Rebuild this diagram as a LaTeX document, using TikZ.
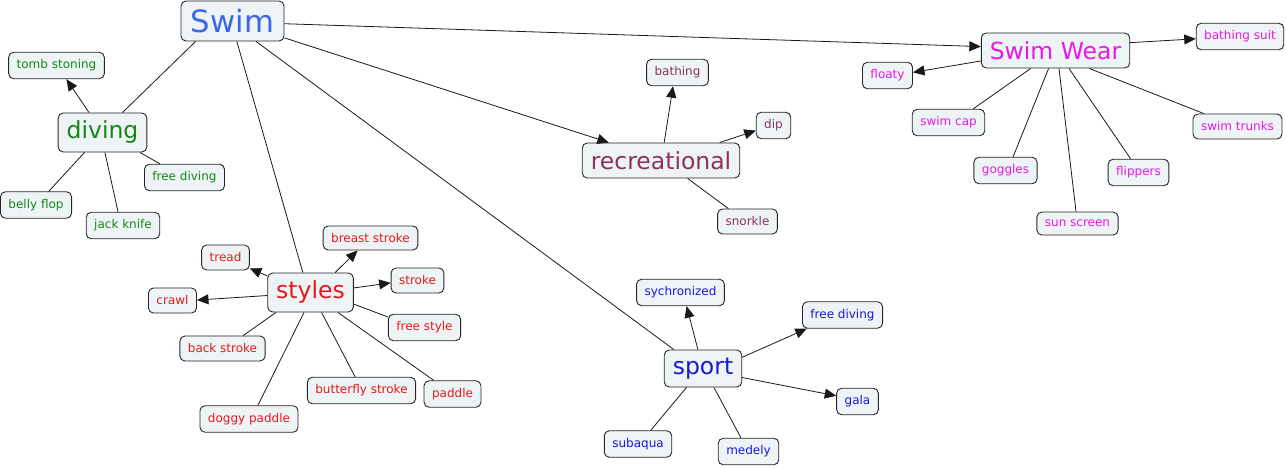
\documentclass[tikz,border=0pt]{standalone}
\usepackage{fontspec}
\setmainfont{DejaVu Sans}
\usetikzlibrary{arrows.meta}
\definecolor{cfill}{RGB}{238,243,246}
\definecolor{cswim}{RGB}{59,102,232}
\definecolor{cgreen}{RGB}{22,135,22}
\definecolor{cred}{RGB}{230,25,25}
\definecolor{cplum}{RGB}{140,50,95}
\definecolor{cblue}{RGB}{25,25,210}
\definecolor{cmag}{RGB}{230,25,230}
\begin{document}
\begin{tikzpicture}[x=1pt,y=-1pt,
  box/.style={draw=black!85, line width=0.9pt, fill=cfill, rounded corners=5pt,
    inner xsep=8pt, inner ysep=0pt, minimum height=26.5pt},
  big/.style={box, font=\fontsize{23.5}{28}\selectfont, inner xsep=8.5pt, minimum height=37pt},
  small/.style={box, font=\fontsize{12}{14}\selectfont},
  link/.style={draw=black!90, line width=0.8pt},
  arr/.style={link, -{Triangle[length=11.5pt,width=10pt]}}]
\useasboundingbox (0,0) rectangle (1286,468);

% main concepts
\node[big, text=cswim, font=\fontsize{30.7}{36}\selectfont, inner xsep=10pt, minimum height=40pt] (swim) at (232.5,21) {Swim};
\node[big, text=cgreen, minimum height=39pt] (diving) at (102.5,132.5) {diving};
\node[big, text=cred, minimum height=39pt] (styles) at (310.5,292.5) {styles};
\node[big, text=cplum, minimum height=35pt] (rec) at (661,160.5) {recreational};
\node[big, text=cmag, minimum height=35pt] (sw) at (1055.5,50.5) {Swim Wear};
\node[big, text=cblue, minimum height=37pt] (sport) at (703,368.5) {sport};

% diving children
\node[small, text=cgreen] (tomb) at (56.5,65.5) {tomb stoning};
\node[small, text=cgreen] (fdg) at (184.5,177.5) {free diving};
\node[small, text=cgreen] (belly) at (36,205) {belly flop};
\node[small, text=cgreen] (jack) at (123,225.5) {jack knife};

% styles children
\node[small, text=cred, minimum height=24pt] (breast) at (370.5,238) {breast stroke};
\node[small, text=cred, minimum height=25pt] (tread) at (225.5,257.5) {tread};
\node[small, text=cred, minimum height=25pt] (stroke) at (417.5,280.5) {stroke};
\node[small, text=cred, minimum height=25pt] (crawl) at (172.5,300.5) {crawl};
\node[small, text=cred] (freestyle) at (424.5,327.5) {free style};
\node[small, text=cred, minimum height=25pt] (back) at (222.5,348.5) {back stroke};
\node[small, text=cred] (butterfly) at (361.5,390.5) {butterfly stroke};
\node[small, text=cred] (paddle) at (452.5,394) {paddle};
\node[small, text=cred] (doggy) at (249,419) {doggy paddle};

% recreational children
\node[small, text=cplum] (bathing) at (677.5,72.5) {bathing};
\node[small, text=cplum] (dip) at (773.5,125.5) {dip};
\node[small, text=cplum, minimum height=25pt] (snorkle) at (747.5,221.5) {snorkle};

% sport children
\node[small, text=cblue] (sych) at (680.5,292.5) {sychronized};
\node[small, text=cblue] (fdb) at (842.5,315) {free diving};
\node[small, text=cblue] (gala) at (857.5,401.5) {gala};
\node[small, text=cblue] (subaqua) at (638,444) {subaqua};
\node[small, text=cblue] (medely) at (748.5,451.5) {medely};

% swim wear children
\node[small, text=cmag] (bsuit) at (1240,36.5) {bathing suit};
\node[small, text=cmag] (floaty) at (887.5,75.5) {floaty};
\node[small, text=cmag] (cap) at (948.5,122.5) {swim cap};
\node[small, text=cmag] (goggles) at (1005.5,170.5) {goggles};
\node[small, text=cmag, minimum height=23pt] (sun) at (1077.5,223.5) {sun screen};
\node[small, text=cmag] (flip) at (1138.5,172.5) {flippers};
\node[small, text=cmag, minimum height=25pt] (trunks) at (1237.5,126.5) {swim trunks};

% Swim links
\draw[link] (swim.209.2) -- (diving.45);
\draw[link] (swim.282.1) -- (styles.111);
\draw[link] (swim.319.2) -- (sport.147.5);
\draw[arr] (swim.342.4) -- (rec.161.7);
\draw[arr] (swim.357.7) -- (sw.177.4);

% diving links
\draw[arr] (diving.124.7) -- (tomb.306);
\draw[link] (diving.228) -- (belly.47);
\draw[link] (diving.277) -- (jack.110);
\draw[link] (diving.332.6) -- (fdg.151);

% styles links
\draw[arr] (styles.159.5) -- (tread.336.8);
\draw[arr] (styles.184.7) -- (crawl.1.2);
\draw[arr] (styles.39.7) -- (breast.224);
\draw[arr] (styles.6) -- (stroke.185.4);
\draw[link] (styles.345.2) -- (freestyle.164);
\draw[link] (styles.210) -- (back.32.7);
\draw[link] (styles.252.4) -- (doggy.57.3);
\draw[link] (styles.299.3) -- (butterfly.115.7);
\draw[link] (styles.324.3) -- (paddle.144.9);

% recreational links
\draw[arr] (rec.80.3) -- (bathing.252.8);
\draw[arr] (rec.17.1) -- (dip.196.6);
\draw[link] (rec.326) -- (snorkle.146);

% sport links
\draw[arr] (sport.105) -- (sych.294.1);
\draw[arr] (sport.16.4) -- (fdb.201.8);
\draw[arr] (sport.347.7) -- (gala.165);
\draw[link] (sport.229.1) -- (subaqua.47);
\draw[link] (sport.300.7) -- (medely.119);

% swim wear links
\draw[arr] (sw.6.3) -- (bsuit.183.3);
\draw[arr] (sw.188.5) -- (floaty.7.8);
\draw[link] (sw.216) -- (cap.29.9);
\draw[link] (sw.249.6) -- (goggles.61);
\draw[link] (sw.281.3) -- (sun.97.4);
\draw[link] (sw.307.6) -- (flip.120.4);
\draw[link] (sw.332.5) -- (trunks.159.2);
\end{tikzpicture}
\end{document}
